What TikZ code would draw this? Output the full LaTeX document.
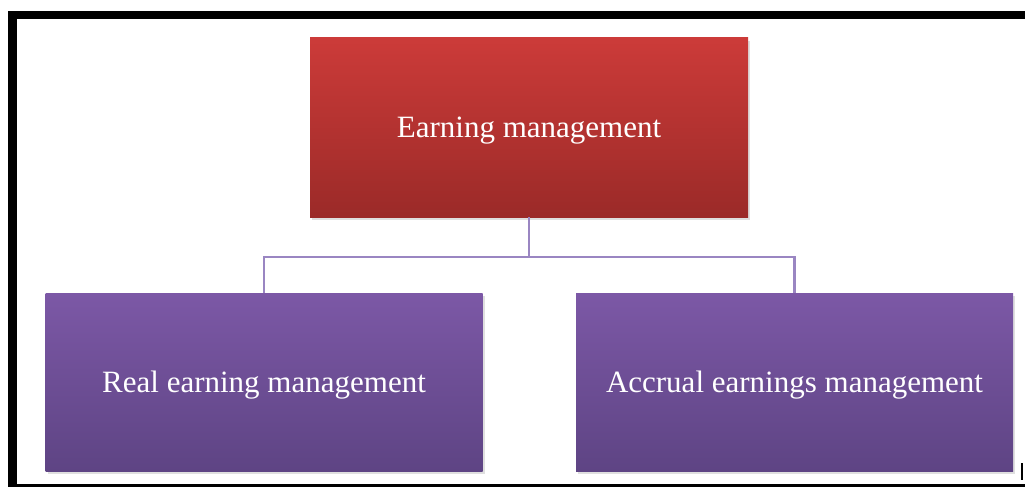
\documentclass[tikz,border=0pt]{standalone}
\usepackage{fontspec}
\setmainfont{Liberation Serif}
\usetikzlibrary{positioning,shadows}
\usepackage{xcolor}
\definecolor{redtop}{HTML}{CC3B39}
\definecolor{redbot}{HTML}{9B2A28}
\definecolor{purtop}{HTML}{7C58A6}
\definecolor{purbot}{HTML}{5E4484}
\definecolor{linkcol}{HTML}{9A86C2}
\tikzset{
rootbox/.style={
  rectangle,
  minimum width=438pt,
  minimum height=179pt,
  top color=redtop,
  bottom color=redbot,
  drop shadow={shadow xshift=2pt,shadow yshift=-3pt,opacity=0.25},
  text=white,
  text depth=0pt,
  font=\fontsize{31}{36}\selectfont
  },
leafbox/.style={
  rootbox,
  minimum width=437pt,
  minimum height=178pt,
  top color=purtop,
  bottom color=purbot
  },
link/.style={draw=linkcol,line width=2.2pt},
%frame round the whole figure
frame/.style={draw=black,line width=8.5pt}
}

\begin{document}
\begin{tikzpicture}[x=1pt,y=-1pt]
    \useasboundingbox (0,0) rectangle (1025,487);
    \draw [frame] (12.5,15) rectangle (1034,488);

    \node [rootbox] (em) at (529,127.5) {Earning management};
    \node [leafbox] (real) at (264,382) {Real earning management};
    \node [leafbox] (accrual) at (794.5,382) {Accrual earnings management};

    \coordinate (fork) at (529,257);
    \draw [link] (em.south) -- (fork);
    \draw [link] (real.north) |- (fork) -| (accrual.north);

    \draw [line width=1.5pt] (1022,463) -- (1022,480);
\end{tikzpicture}
\end{document}
